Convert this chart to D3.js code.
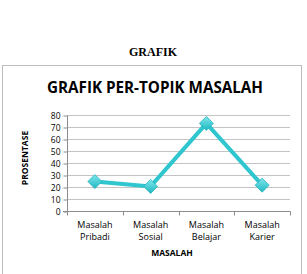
<!DOCTYPE html>
<html>
<head>
<meta charset="utf-8">
<script src="https://cdn.jsdelivr.net/npm/d3@7"></script>
<style>
  body { margin: 0; background: #fff; }
</style>
</head>
<body>
<script>
var categories = [["Masalah", "Pribadi"], ["Masalah", "Sosial"], ["Masalah", "Belajar"], ["Masalah", "Karier"]]
var values = [24.5, 20.5, 73, 21.5]
var yTicks = [0, 10, 20, 30, 40, 50, 60, 70, 80]

var width = 307
var height = 274
var svg = d3.select("body").append("svg")
  .attr("width", width)
  .attr("height", height)

// page caption
svg.append("text")
  .attr("x", 153).attr("y", 56)
  .attr("text-anchor", "middle")
  .style("font-family", "Liberation Serif")
  .style("font-weight", "bold")
  .style("font-size", "12px")
  .text("GRAFIK")

// chart frame
svg.append("rect")
  .attr("x", 2.5).attr("y", 65.5)
  .attr("width", 299).attr("height", 215)
  .attr("fill", "#fff")
  .attr("stroke", "#bdbdbd")

svg.append("text")
  .attr("x", 155).attr("y", 93)
  .attr("text-anchor", "middle")
  .style("font-family", "Open Sans")
  .style("font-weight", "bold")
  .style("font-size", "16px")
  .attr("textLength", 216)
  .attr("lengthAdjust", "spacingAndGlyphs")
  .text("GRAFIK PER-TOPIK MASALAH")

var x = d3.scaleBand()
  .domain(d3.range(categories.length))
  .range([67, 290])
var y = d3.scaleLinear()
  .domain([0, 80])
  .range([211, 115])

// gridlines
svg.append("g").selectAll("line")
  .data(yTicks.slice(1))
  .enter().append("line")
  .attr("x1", 67).attr("x2", 290)
  .attr("y1", d => Math.round(y(d)) + 0.5)
  .attr("y2", d => Math.round(y(d)) + 0.5)
  .attr("stroke", "#c4c4c4")

var yAxis = svg.append("g")
  .attr("transform", "translate(67.5,0.5)")
  .call(d3.axisLeft(y).tickValues(yTicks).tickSize(4).tickPadding(3))
yAxis.select(".domain").attr("stroke", "#8c8c8c").attr("d", "M0," + (Math.round(y(80))) + "V" + Math.round(y(0)))
yAxis.selectAll(".tick line").attr("stroke", "#8c8c8c")
yAxis.selectAll("text")
  .style("font-family", "Open Sans")
  .style("font-size", "8.5px")
  .attr("fill", "#000")

var xAxis = svg.append("g")
  .attr("transform", "translate(0," + (Math.round(y(0)) + 0.5) + ")")
xAxis.append("line")
  .attr("x1", 63).attr("x2", 290.5)
  .attr("stroke", "#8c8c8c")
xAxis.selectAll(".xt")
  .data(d3.range(categories.length + 1))
  .enter().append("line")
  .attr("x1", d => Math.round(67 + d * x.bandwidth()) + 0.5)
  .attr("x2", d => Math.round(67 + d * x.bandwidth()) + 0.5)
  .attr("y1", 0).attr("y2", 4)
  .attr("stroke", "#8c8c8c")

// two-line category labels, one text per line
var labels = svg.append("g")
categories.forEach(function(d, i) {
  d.forEach(function(s, j) {
    labels.append("text")
      .attr("x", x(i) + x.bandwidth() / 2)
      .attr("y", 228 + j * 11.5)
      .attr("text-anchor", "middle")
      .style("font-family", "Open Sans")
      .style("font-size", "9px")
      .text(s)
  })
})

svg.append("text")
  .attr("x", 172).attr("y", 256)
  .attr("text-anchor", "middle")
  .style("font-family", "Open Sans")
  .style("font-weight", "bold")
  .style("font-size", "8.5px")
  .text("MASALAH")

svg.append("text")
  .attr("transform", "translate(28,158) rotate(-90)")
  .attr("text-anchor", "middle")
  .style("font-family", "Open Sans")
  .style("font-weight", "bold")
  .style("font-size", "8.5px")
  .text("PROSENTASE")

// series
var line = d3.line()
  .x((d, i) => x(i) + x.bandwidth() / 2)
  .y(d => y(d))
svg.append("path")
  .datum(values)
  .attr("d", line)
  .attr("fill", "none")
  .attr("stroke", "#2fc6cf")
  .attr("stroke-width", 4)
  .attr("stroke-linejoin", "round")

var defs = svg.append("defs")
var grad = defs.append("linearGradient")
  .attr("id", "dg").attr("x1", 0).attr("y1", 0).attr("x2", 0).attr("y2", 1)
grad.append("stop").attr("offset", "0%").attr("stop-color", "#7fe6ec")
grad.append("stop").attr("offset", "100%").attr("stop-color", "#1fb8c2")

svg.append("g").selectAll("path")
  .data(values)
  .enter().append("path")
  .attr("d", "M0,-7L7,0L0,7L-7,0Z")
  .attr("transform", (d, i) => "translate(" + (x(i) + x.bandwidth() / 2) + "," + y(d) + ")")
  .attr("fill", "url(#dg)")
  .attr("stroke", "#22b3bd")
  .attr("stroke-width", 0.8)
</script>
</body>
</html>
